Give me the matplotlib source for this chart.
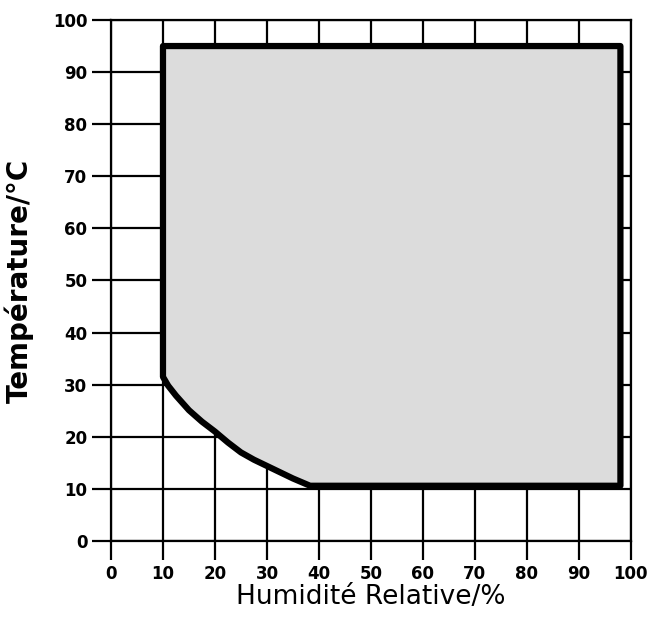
import matplotlib
matplotlib.use('Agg')
import matplotlib.pyplot as plt

# operating envelope: relative humidity (%) vs temperature (deg C)
hum = [10, 10, 11, 12.5, 15, 17.5, 20, 22.5, 25, 27.5, 30, 32.5, 35, 38.3,
       98, 98, 10]
temp = [95, 31.5, 29.8, 27.9, 25.1, 22.9, 21.0, 18.9, 17.0, 15.6, 14.4,
        13.2, 12.0, 10.6, 10.6, 95, 95]

ticks = list(range(0, 101, 10))

fig = plt.figure(figsize=(6.51, 6.17), dpi=100)
ax = fig.add_axes([0.1705, 0.1232, 0.7985, 0.8444])

ax.set_xlim(0, 100)
ax.set_ylim(0, 100)
ax.set_xticks(ticks)
ax.set_yticks(ticks)
ax.grid(True, color='black', linewidth=1.6)
ax.set_axisbelow(True)

ax.fill(hum, temp, facecolor='#dcdcdc', edgecolor='black',
        linewidth=4.5, joinstyle='round', zorder=3)

for s in ax.spines.values():
    s.set_linewidth(1.6)
ax.tick_params(direction='out', length=14, width=1.6, pad=3)
for lab in ax.get_xticklabels() + ax.get_yticklabels():
    lab.set_fontweight('bold')
    lab.set_fontsize(12)

ax.set_xlabel('Humidité Relative/%', fontsize=19, labelpad=1)
ax.set_ylabel('Température/°C', fontsize=20, fontweight='bold', labelpad=14)

plt.savefig('out.png', dpi=100)
